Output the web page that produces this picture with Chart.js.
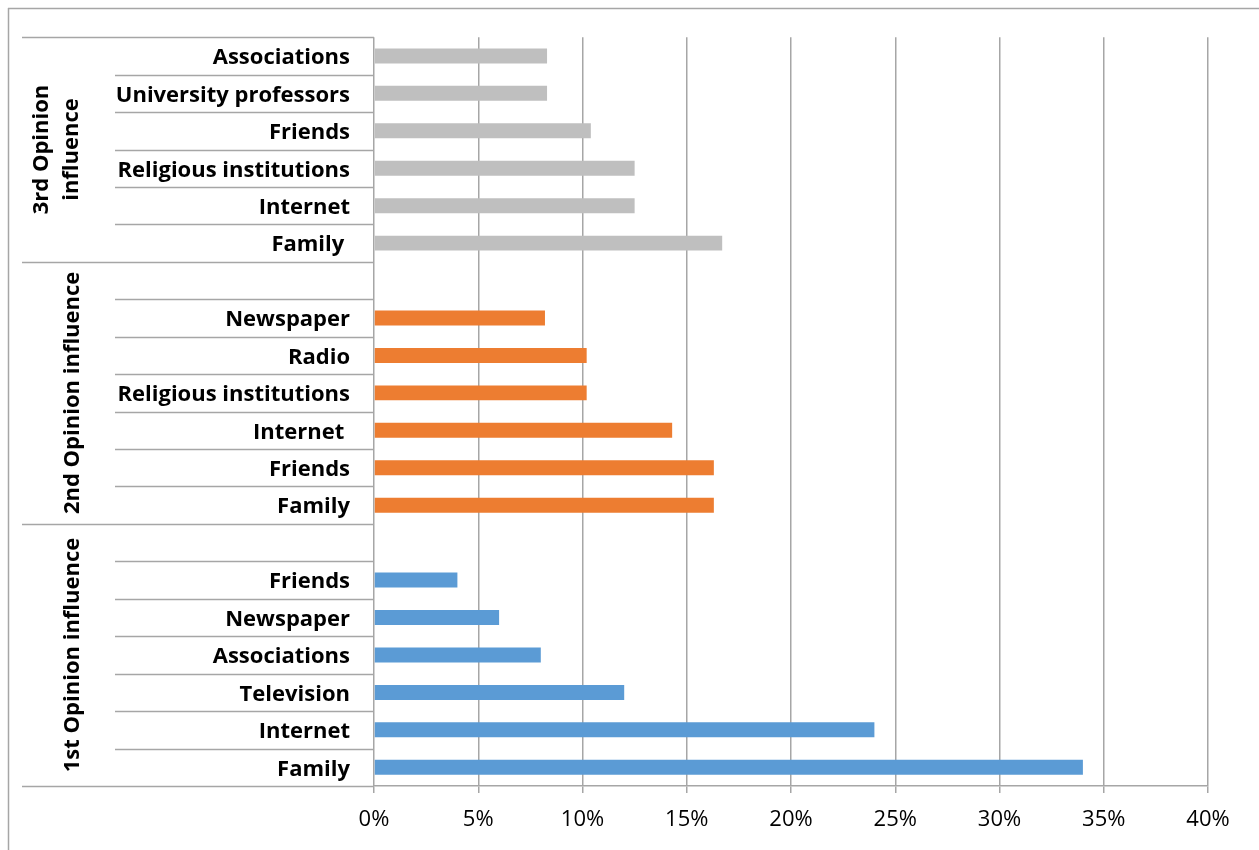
<!DOCTYPE html>
<html>
<head>
<meta charset="utf-8">
<title>Opinion influence</title>
<script src="https://cdn.jsdelivr.net/npm/chart.js@4.4.1/dist/chart.umd.min.js"></script>
<style>
    html, body { margin: 0; padding: 0; background: #fff; }
    #wrap { width: 1259px; height: 850px; position: relative; }
</style>
</head>
<body>
<div id="wrap"><canvas id="influenceChart" width="1259" height="850"></canvas></div>
<script>
// group names, top to bottom
const groupNames = [['3rd Opinion', 'influence'], ['2nd Opinion influence'], ['1st Opinion influence']];

// 3rd opinion (grey)
const thirdLabels = ['Associations', 'University professors', 'Friends', 'Religious institutions', 'Internet', 'Family '];
const thirdValues = [8.3, 8.3, 10.4, 12.5, 12.5, 16.7];

// 2nd opinion (orange)
const secondLabels = ['', 'Newspaper', 'Radio', 'Religious institutions', 'Internet ', 'Friends', 'Family'];
const secondValues = [null, 8.2, 10.2, 10.2, 14.3, 16.3, 16.3];

// 1st opinion (blue)
const firstLabels = ['', 'Friends', 'Newspaper', 'Associations', 'Television', 'Internet', 'Family'];
const firstValues = [null, 4, 6, 8, 12, 24, 34];

const xTicks = [0, 5, 10, 15, 20, 25, 30, 35, 40];

const groupColors = ['#BFBFBF', '#ED7D31', '#5B9BD5'];
const lineColor = '#A6A6A6';
const fontFamily = '"Open Sans", Lato, sans-serif';

const groups = [thirdLabels, secondLabels, firstLabels];
const groupValues = [thirdValues, secondValues, firstValues];

const labels = [].concat(thirdLabels, secondLabels, firstLabels);

// one dataset per group, padded with nulls outside its rows
const datasets = groupValues.map((vals, gi) => {
    const data = [];
    groups.forEach((g, gj) => {
        g.forEach((_, k) => data.push(gi === gj ? vals[k] : null));
    });
    return {
        data: data,
        backgroundColor: groupColors[gi],
        borderWidth: 0,
        barPercentage: 0.4,
        categoryPercentage: 1,
        grouped: false
    };
});

// multi-level category axis: row separators, group separators, group titles
const categoryAxisPlugin = {
    id: 'categoryAxis',
    afterDraw(chart) {
        const ctx = chart.ctx;
        const area = chart.chartArea;
        const innerLeft = 115;
        const outerLeft = 22;
        const rowH = (area.bottom - area.top) / labels.length;

        ctx.save();
        ctx.strokeStyle = lineColor;
        ctx.lineWidth = 1.5;

        // outer frame (top and left edges)
        ctx.beginPath();
        ctx.moveTo(8, 8.5);
        ctx.lineTo(1259, 8.5);
        ctx.moveTo(8.5, 8);
        ctx.lineTo(8.5, 850);
        ctx.stroke();

        let row = 0;
        const groupBounds = [row];
        groups.forEach(g => { row += g.length; groupBounds.push(row); });

        for (let i = 0; i <= labels.length; i++) {
            const y = Math.round(area.top + i * rowH) + 0.5;
            const left = groupBounds.includes(i) ? outerLeft : innerLeft;
            ctx.beginPath();
            ctx.moveTo(left, y);
            ctx.lineTo(area.left, y);
            ctx.stroke();
        }

        // group titles, rotated
        ctx.fillStyle = '#000';
        ctx.font = 'bold 22px ' + fontFamily;
        ctx.textAlign = 'center';
        ctx.textBaseline = 'middle';
        groupNames.forEach((lines, gi) => {
            const y0 = area.top + groupBounds[gi] * rowH;
            const y1 = area.top + groupBounds[gi + 1] * rowH;
            const cy = (y0 + y1) / 2;
            const cx = 57 + (lines.length === 1 ? 16 : 0);
            ctx.save();
            ctx.translate(cx, cy);
            ctx.rotate(-Math.PI / 2);
            lines.forEach((t, li) => {
                const off = (li - (lines.length - 1) / 2) * 30;
                ctx.fillText(t, 0, off);
            });
            ctx.restore();
        });
        ctx.restore();
    }
};

const ctx = document.getElementById('influenceChart').getContext('2d');
new Chart(ctx, {
    type: 'bar',
    data: { labels: labels, datasets: datasets },
    options: {
        indexAxis: 'y',
        responsive: false,
        animation: false,
        layout: { padding: { top: 37, right: 51, left: 0, bottom: 0 } },
        plugins: {
            legend: { display: false },
            tooltip: { enabled: false }
        },
        scales: {
            x: {
                min: 0,
                max: 40,
                afterBuildTicks: scale => { scale.ticks = xTicks.map(v => ({ value: v })); },
                afterFit: scale => { scale.height = 64; },
                grid: {
                    color: lineColor,
                    lineWidth: 1.5,
                    drawTicks: true,
                    tickLength: 7
                },
                border: { color: lineColor, width: 1.5 },
                ticks: {
                    padding: 14,
                    color: '#000',
                    font: { family: fontFamily, size: 22 },
                    callback: v => v + '%'
                }
            },
            y: {
                afterFit: scale => { scale.width = 374; },
                grid: { display: false, drawTicks: false },
                border: { display: false },
                ticks: {
                    autoSkip: false,
                    padding: 24,
                    labelOffset: 2,
                    color: '#000',
                    font: { family: fontFamily, size: 22, weight: 'bold' }
                }
            }
        }
    },
    plugins: [categoryAxisPlugin]
});
</script>
</body>
</html>
